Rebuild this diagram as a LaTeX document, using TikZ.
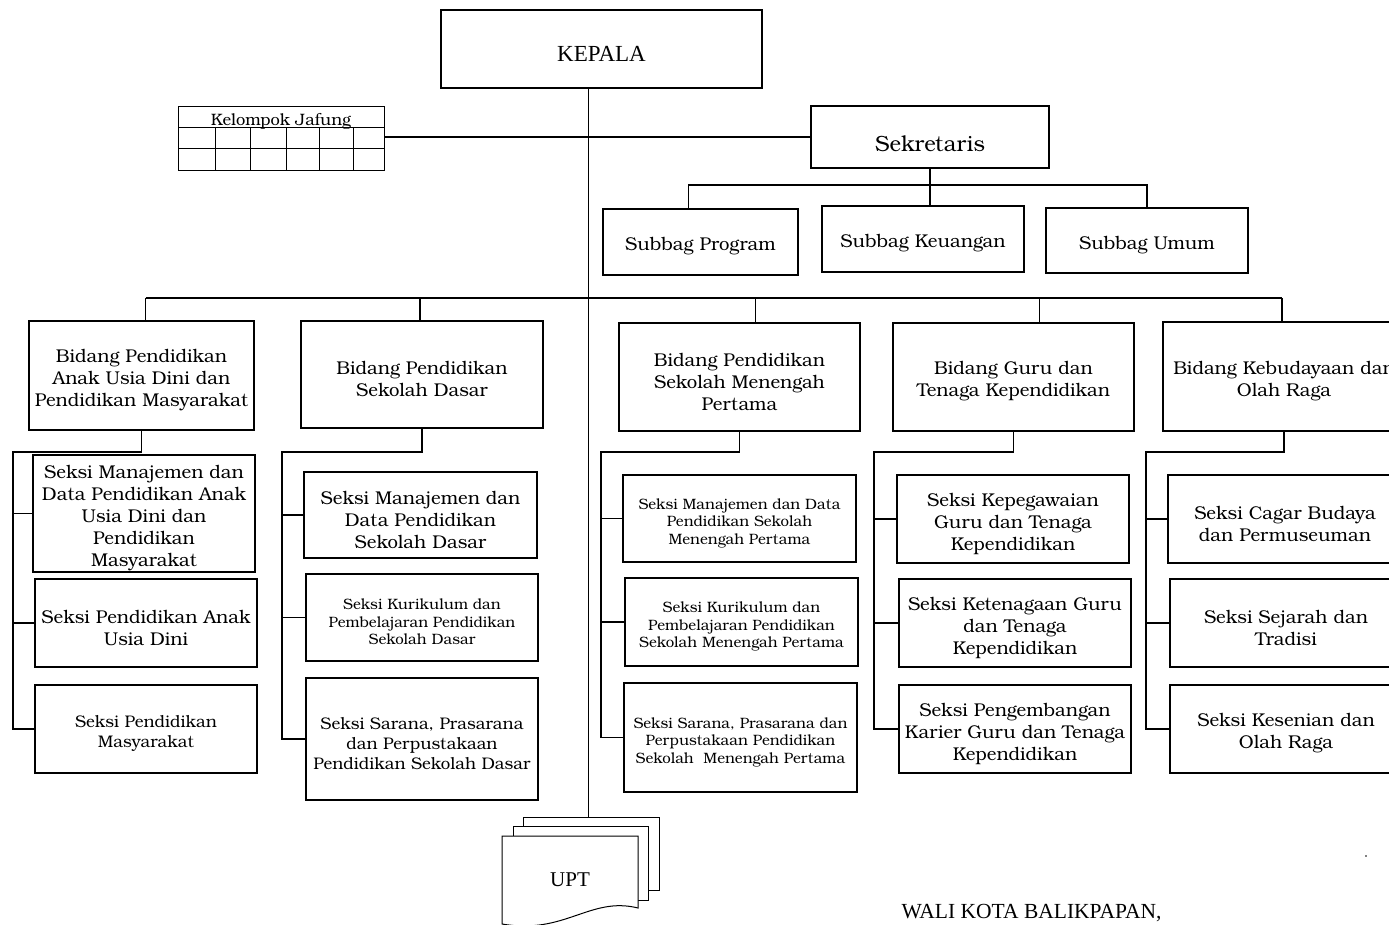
\documentclass[tikz,border=0pt]{standalone}
\usepackage{fontspec}
\setmainfont{texgyrebonum-regular.otf}
\newfontfamily\timesfont{Liberation Serif}
\tikzset{
        box/.style={draw, line width=1.2pt, inner sep=0pt, align=center, fill=white,
                execute at begin node={\vbox\bgroup\kern9pt\hbox\bgroup},
                execute at end node={\egroup\egroup}},
        link/.style={line width=1.2pt},
        bigtxt/.style={font=\fontsize{18.5}{22}\selectfont},
        midtxt/.style={font=\fontsize{16.8}{19.8}\selectfont},
        smalltxt/.style={font=\fontsize{15}{17.5}\selectfont},
        sheet/.style={draw, line width=1pt, fill=white, inner sep=0pt}
}
\begin{document}
\begin{tikzpicture}[x=1pt, y=-1pt]
        \useasboundingbox (0,0) rectangle (1389,925);

        \node[box, minimum width=321, minimum height=78, text height=25, text depth=0, font=\timesfont\fontsize{23}{26}\selectfont] (kepala) at (601.5,49) {KEPALA};
        \node[box, line width=1pt, minimum width=206, minimum height=64] (jafung) at (281,139) {};
        \draw[line width=1pt] (178,128) -- (384,128);
        \draw[line width=1pt] (178,149) -- (384,149);
        \foreach \x in {215,250,286,319,353}
                \draw[line width=1pt] (\x,128) -- (\x,171);
        \node[font=\fontsize{16.5}{19}\selectfont] (jafungT) at (281,121) {Kelompok Jafung};
        \node[box, minimum width=238, minimum height=62, text height=30, text depth=0, font=\fontsize{22}{26}\selectfont] (sekretaris) at (930,137) {Sekretaris};

        % subbag
        \node[box, bigtxt, minimum width=195, minimum height=66] (sbprogram) at (700.5,242) {Subbag Program};
        \node[box, bigtxt, minimum width=202, minimum height=66] (sbkeuangan) at (923,239) {Subbag Keuangan};
        \node[box, bigtxt, minimum width=202, minimum height=65] (sbumum) at (1147,240.5) {Subbag Umum};

        % bidang
        \node[box, bigtxt, minimum width=225, minimum height=109] (paud) at (141.5,375.5) {Bidang Pendidikan\\Anak Usia Dini dan\\Pendidikan Masyarakat};
        \node[box, bigtxt, minimum width=242, minimum height=107] (sd) at (422,374.5) {Bidang Pendidikan\\Sekolah Dasar};
        \node[box, bigtxt, minimum width=241, minimum height=108] (smp) at (739.5,377) {Bidang Pendidikan\\Sekolah Menengah\\Pertama};
        \node[box, bigtxt, minimum width=241, minimum height=108] (guru) at (1013.5,377) {Bidang Guru dan\\Tenaga Kependidikan};
        \node[box, bigtxt, minimum width=242, minimum height=109] (bud) at (1284,376.5) {Bidang Kebudayaan dan\\Olah Raga};

        % seksi
        \node[box, bigtxt, minimum width=222, minimum height=117] (paud1) at (144,513.5) {Seksi Manajemen dan\\Data Pendidikan Anak\\Usia Dini dan\\Pendidikan\\Masyarakat};
        \node[box, bigtxt, minimum width=222, minimum height=88] (paud2) at (146,623) {Seksi Pendidikan Anak\\Usia Dini};
        \node[box, midtxt, minimum width=222, minimum height=88] (paud3) at (146,729) {Seksi Pendidikan\\Masyarakat};
        \node[box, bigtxt, minimum width=233, minimum height=86] (sd1) at (420.5,515) {Seksi Manajemen dan\\Data Pendidikan\\Sekolah Dasar};
        \node[box, smalltxt, minimum width=232, minimum height=87] (sd2) at (422,617.5) {Seksi Kurikulum dan\\Pembelajaran Pendidikan\\Sekolah Dasar};
        \node[box, midtxt, minimum width=232, minimum height=122] (sd3) at (422,739) {Seksi Sarana, Prasarana\\dan Perpustakaan\\Pendidikan Sekolah Dasar};
        \node[box, smalltxt, minimum width=233, minimum height=87] (smp1) at (739.5,518.5) {Seksi Manajemen dan Data\\Pendidikan Sekolah\\Menengah Pertama};
        \node[box, smalltxt, minimum width=233, minimum height=88] (smp2) at (741.5,622) {Seksi Kurikulum dan\\Pembelajaran Pendidikan\\Sekolah Menengah Pertama};
        \node[box, smalltxt, minimum width=233, minimum height=109] (smp3) at (740.5,737.5) {Seksi Sarana, Prasarana dan\\Perpustakaan Pendidikan\\Sekolah\ \ Menengah Pertama};
        \node[box, bigtxt, minimum width=232, minimum height=88] (guru1) at (1013,519) {Seksi Kepegawaian\\Guru dan Tenaga\\Kependidikan};
        \node[box, bigtxt, minimum width=232, minimum height=88] (guru2) at (1015,623) {Seksi Ketenagaan Guru\\dan Tenaga\\Kependidikan};
        \node[box, bigtxt, minimum width=232, minimum height=88] (guru3) at (1015,729) {Seksi Pengembangan\\Karier Guru dan Tenaga\\Kependidikan};
        \node[box, bigtxt, minimum width=234, minimum height=88] (bud1) at (1285,519) {Seksi Cagar Budaya\\dan Permuseuman};
        \node[box, bigtxt, minimum width=232, minimum height=88] (bud2) at (1286,623) {Seksi Sejarah dan\\Tradisi};
        \node[box, bigtxt, minimum width=232, minimum height=88] (bud3) at (1286,729) {Seksi Kesenian dan\\Olah Raga};

        % upt
        \node[sheet, minimum width=136, minimum height=73] (upt3) at (591,853.5) {};
        \node[sheet, minimum width=135, minimum height=74] (upt2) at (580.5,863) {};
        \draw[sheet] (502,836) -- (638,836) -- (638,908) .. controls (590,896) and (565,935) .. (502,924) -- cycle;
        \node[font=\timesfont\fontsize{21}{25}\selectfont] (upt) at (570,880) {UPT};

        % garis
        \draw[link] ([xshift=-13]kepala.south) -- ([xshift=-13]kepala.south |- upt3.north);
        \draw[link] (jafung.east |- sekretaris.west) -- (sekretaris.west);
        \coordinate (sbar) at (930,185);
        \draw[link] (sekretaris.south) -- (sekretaris.south |- sbkeuangan.north);
        \draw[link] ([xshift=-12]sbprogram.north) |- (sbar) -| (sbumum.north);
        \coordinate (bar) at (588,298);
        \draw[link] ([xshift=4]paud.north |- bar) -- ([xshift=-2]bud.north |- bar);
        \foreach \b/\s in {paud/4, sd/-2, smp/16, guru/26, bud/-2}
                \draw[link] ([xshift=\s]\b.north) -- ([xshift=\s]\b.north |- bar);
        \foreach \b/\l in {paud/13, sd/282, smp/601, guru/874, bud/1146} {
                \coordinate (\b L) at (\l,452);
                \draw[link] (\b.south) |- (\b L) -- (\b L |- \b3.west) -- (\b3.west);
                \draw[link] (\b L |- \b1.west) -- (\b1.west);
                \draw[link] (\b L |- \b2.west) -- (\b2.west);
        }

        \node[font=\timesfont\fontsize{21.5}{25}\selectfont, anchor=base west] (wali) at (898,918) {WALI KOTA BALIKPAPAN,};
        \fill (1366,856) circle (0.8);
\end{tikzpicture}
\end{document}
